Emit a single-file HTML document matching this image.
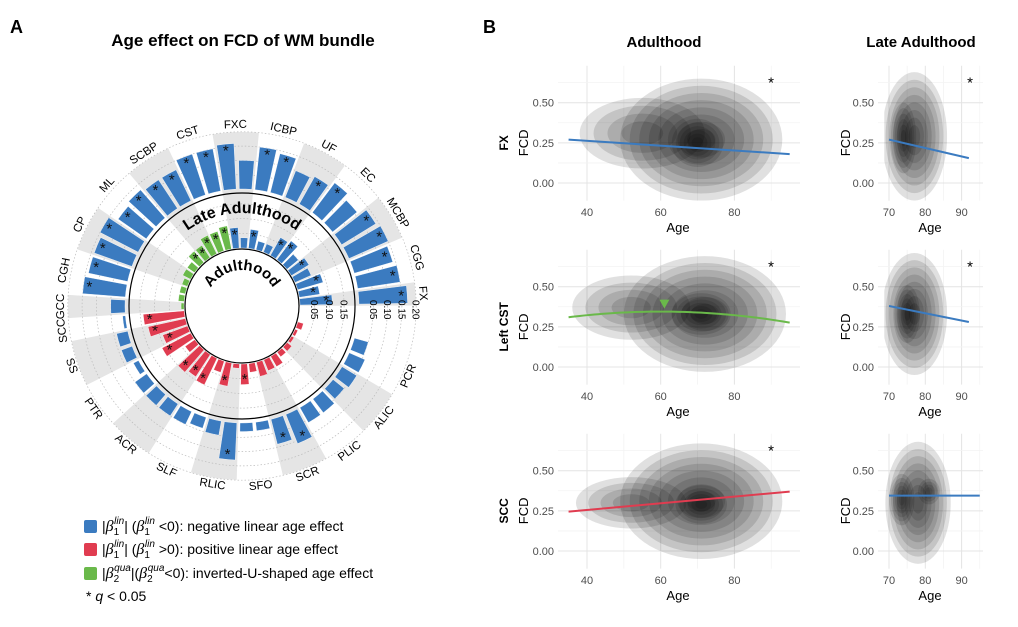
<!DOCTYPE html>
<html><head><meta charset="utf-8">
<style>
body{margin:0;background:#fff;}
svg text{font-family:"Liberation Sans",sans-serif;}
</style></head>
<body>
<svg id="fig" width="1018" height="622" viewBox="0 0 1018 622" xmlns="http://www.w3.org/2000/svg">
<rect width="1018" height="622" fill="#fff"/>
<text x="10" y="33" font-size="18" font-weight="bold">A</text>
<text x="483" y="33" font-size="18" font-weight="bold">B</text>
<text x="243" y="46" font-size="17" font-weight="bold" text-anchor="middle">Age effect on FCD of WM bundle</text>
<g id="circ"></g>
<g id="legend">
  <rect x="84" y="520" width="13" height="13" rx="2" fill="#3b7bc0"/>
  <text x="102" y="531" font-size="14">|<tspan font-style="italic" font-family="Liberation Serif" font-size="16">β</tspan><tspan font-size="10" dy="4">1</tspan><tspan font-size="10" dy="-11" dx="-5" font-style="italic">lin</tspan><tspan dy="7">|   (</tspan><tspan font-style="italic" font-family="Liberation Serif" font-size="16">β</tspan><tspan font-size="10" dy="4">1</tspan><tspan font-size="10" dy="-11" dx="-5" font-style="italic">lin</tspan><tspan dy="7"> &lt;0): negative linear age effect</tspan></text>
  <rect x="84" y="543" width="13" height="13" rx="2" fill="#e03c50"/>
  <text x="102" y="554" font-size="14">|<tspan font-style="italic" font-family="Liberation Serif" font-size="16">β</tspan><tspan font-size="10" dy="4">1</tspan><tspan font-size="10" dy="-11" dx="-5" font-style="italic">lin</tspan><tspan dy="7">|   (</tspan><tspan font-style="italic" font-family="Liberation Serif" font-size="16">β</tspan><tspan font-size="10" dy="4">1</tspan><tspan font-size="10" dy="-11" dx="-5" font-style="italic">lin</tspan><tspan dy="7"> &gt;0): positive linear age effect</tspan></text>
  <rect x="84" y="567" width="13" height="13" rx="2" fill="#6ab94a"/>
  <text x="102" y="578" font-size="14">|<tspan font-style="italic" font-family="Liberation Serif" font-size="16">β</tspan><tspan font-size="10" dy="4">2</tspan><tspan font-size="10" dy="-11" dx="-5" font-style="italic">qua</tspan><tspan dy="7">|(</tspan><tspan font-style="italic" font-family="Liberation Serif" font-size="16">β</tspan><tspan font-size="10" dy="4">2</tspan><tspan font-size="10" dy="-11" dx="-5" font-style="italic">qua</tspan><tspan dy="7">&lt;0): inverted-U-shaped age effect</tspan></text>
  <text x="86" y="601" font-size="14">*  <tspan font-style="italic">q</tspan> &lt; 0.05</text>
</g>
<g id="scat"></g>
</svg>
<script>
// ---------- circular chart data ----------
const tracts = ["FX","CGG","MCBP","EC","UF","ICBP","FXC","CST","SCBP","ML","CP","CGH","GCC","SCC","SS","PTR","ACR","SLF","RLIC","SFO","SCR","PLIC","ALIC","PCR"];
const tractBars = [1,2,2,2,2,2,2,2,2,2,2,2,1,1,2,2,2,2,2,2,2,2,2,2];
const adultVals = [0.11,0.07,0.09,0.06,0.07,0.05,0.08,0.07,0.03,0.03,0.065,0.035,0.07,0.08,0.07,0.07,0.05,0.05,0.03,0.03,0.02,0.02,0.02,0.01,0.14,0.13,0.09,0.11,0.04,0.1,0.09,0.1,0.04,0.08,0.015,0.07,0.03,0.05,0.04,0.04,0.02,0.02,0.01,0.01,0.02];
const adultType = ["n","n","n","n","n","n","n","n","n","n","n","n","n","q","q","q","q","q","q","q","q","q","q","q","p","p","p","p","p","p","p","p","p","p","p","p","p","p","p","p","p","p","p","p","p"];
const adultSig = [1,1,1,0,1,0,1,1,0,0,1,0,1,1,1,1,1,1,0,0,0,0,0,0,1,1,1,1,0,1,1,1,0,1,0,1,0,0,0,0,0,0,0,0,0];
const lateVals = [0.17,0.15,0.14,0.15,0.14,0.11,0.13,0.11,0.1,0.14,0.15,0.1,0.16,0.15,0.15,0.12,0.12,0.13,0.12,0.15,0.14,0.14,0.15,0.05,0.01,0.04,0.04,0.02,0.05,0.05,0.05,0.05,0.04,0.05,0.13,0.03,0.03,0.09,0.11,0.06,0.06,0.05,0.06,0.06,0.05];
const lateSig = [1,1,1,1,1,0,1,1,0,1,1,0,1,1,1,1,1,1,1,1,1,1,1,0,0,0,0,0,0,0,0,0,0,0,1,0,0,1,1,0,0,0,0,0,0];
const innerTicks = ["0.05","0.10","0.15"];
const outerTicks = ["0.05","0.10","0.15","0.20"];

const NS="http://www.w3.org/2000/svg";
function el(tag, attrs, parent){const e=document.createElementNS(NS,tag);for(const k in attrs)e.setAttribute(k,attrs[k]);parent.appendChild(e);return e;}
const cx=242, cy=306, R0=57, RM=113, RMAX=174;
const nSlots=47, slotDeg=360/nSlots, startDeg=4;
const colors={n:"#3b7bc0",p:"#e03c50",q:"#6ab94a"};
function ang(i){return (startDeg+i*slotDeg)*Math.PI/180;}
function pt(r,a){return [cx+r*Math.cos(a), cy-r*Math.sin(a)];}
function sector(r1,r2,a1,a2){
  const p1=pt(r2,a1),p2=pt(r2,a2),p3=pt(r1,a2),p4=pt(r1,a1);
  const large=(a2-a1)>Math.PI?1:0;
  return `M${p1[0]},${p1[1]} A${r2},${r2} 0 ${large} 0 ${p2[0]},${p2[1]} L${p3[0]},${p3[1]} A${r1},${r1} 0 ${large} 1 ${p4[0]},${p4[1]} Z`;
}
const rInner=v=>R0+1+v*294;
const rOuter=v=>RM+4+v*286;
const g=document.getElementById("circ");
let slot=0;
tracts.forEach((t,ti)=>{
  const a1=ang(slot-0.5), a2=ang(slot+tractBars[ti]-0.5);
  if(ti%2===0){
    const s=el("path",{d:sector(R0,RMAX,a1,a2),fill:"#e5e5e5"},g);
    
    
  }
  const am=(a1+a2)/2, deg=am*180/Math.PI;
  const p=pt(181,am);
  const rot=(deg>195&&deg<360)?270-deg:90-deg;
  const tx=el("text",{x:p[0],y:p[1],"font-size":"11.5","text-anchor":"middle","dominant-baseline":"middle",transform:`rotate(${rot} ${p[0]} ${p[1]})`},g);
  tx.textContent=t;
  
  
  slot+=tractBars[ti];
});
[0.05,0.1,0.15].forEach(v=>{const c=el("circle",{cx,cy,r:rInner(v),fill:"none",stroke:"#bbb","stroke-width":"0.7","stroke-dasharray":"1.5 2"},g);});
[0.05,0.1,0.15,0.2].forEach(v=>{const c=el("circle",{cx,cy,r:rOuter(v),fill:"none",stroke:"#bbb","stroke-width":"0.7","stroke-dasharray":"1.5 2"},g);});
const hw=slotDeg*0.4*Math.PI/180;
function star(r,a,name){const p=pt(r,a);const s=el("text",{x:p[0],y:p[1]+5.5,"font-size":"15","text-anchor":"middle",fill:"#111"},g);s.textContent="*";}
for(let i=0;i<adultVals.length;i++){
  const a=ang(i);
  const b=el("path",{d:sector(R0+1,rInner(adultVals[i]),a-hw,a+hw),fill:colors[adultType[i]],stroke:"#fff","stroke-width":"0.4"},g);
  
  
  if(adultSig[i]) star(rInner(adultVals[i])-6,a,'adulthood-significance-star');
  const b2=el("path",{d:sector(RM+4,rOuter(lateVals[i]),a-hw,a+hw),fill:"#3b7bc0",stroke:"#fff","stroke-width":"0.4"},g);
  
  
  if(lateSig[i]) star(rOuter(lateVals[i])-6,a,'late-adulthood-significance-star');
}
const c1=el("circle",{cx,cy,r:R0,fill:"#fff",stroke:"#000","stroke-width":"1.2"},g);

const c2=el("circle",{cx,cy,r:RM,fill:"none",stroke:"#000","stroke-width":"1.2"},g);

innerTicks.forEach((t,k)=>{const x=rInner(+t)+cx;const tx=el("text",{x:x-3.5,y:cy-6,"font-size":"10",transform:`rotate(90 ${x-3.5} ${cy-6})`},g);tx.textContent=t;});
outerTicks.forEach((t,k)=>{const x=rOuter(+t)+cx;const tx=el("text",{x:x-3.5,y:cy-6,"font-size":"10",transform:`rotate(90 ${x-3.5} ${cy-6})`},g);tx.textContent=t;});
const defs=el("defs",{},g);
el("path",{id:"arcLate",d:`M${cx-93},${cy} A93,93 0 0 1 ${cx+93},${cy}`},defs);
el("path",{id:"arcAdult",d:`M${cx-36},${cy} A36,36 0 0 1 ${cx+36},${cy}`},defs);
const lt=el("text",{"font-size":"16","font-weight":"bold"},g);

const tp=el("textPath",{href:"#arcLate",startOffset:"50%","text-anchor":"middle"},lt);tp.textContent="Late Adulthood";
const at=el("text",{"font-size":"15","font-weight":"bold"},g);

const tp2=el("textPath",{href:"#arcAdult",startOffset:"50%","text-anchor":"middle"},at);tp2.textContent="Adulthood";

// ---------- density panels data ----------
const rowNames=["FX","Left CST","SCC"];
const adultTicksX=[40,60,80];
const lateTicksX=[70,80,90];
const ticksY=[0,0.25,0.5];
// blobs: [age, fcd, rxYears, ryFcd, weight]
const adultBlobs=[
 [[71,0.27,22,0.38,1],[55,0.31,17,0.22,0.5],[70,0.25,7,0.15,0.7]],
 [[72,0.33,22,0.36,1],[52,0.37,16,0.2,0.5],[71,0.33,8,0.13,0.7]],
 [[71,0.31,22,0.36,1],[52,0.3,15,0.16,0.5],[71,0.29,7,0.12,0.7]]];
const lateBlobs=[
 [[77,0.29,9,0.4,1],[74,0.28,3.5,0.22,0.8]],
 [[77,0.33,9,0.38,1],[75,0.33,3.5,0.18,0.8]],
 [[78,0.3,9,0.38,1],[73.5,0.32,3.5,0.16,0.7],[81,0.37,3,0.08,0.5]]];
const adultLineStart=[0.27,0.31,0.245];
const adultLineEnd=[0.18,0.28,0.37];
const adultLinePeak=[null,[60,0.345],null];
const adultLineColor=["#3b7bc0","#6ab94a","#e03c50"];
const lateLineStart=[0.27,0.38,0.345];
const lateLineEnd=[0.155,0.28,0.345];
const lateLineEndAge=[92,92,95];
const adultSigRow=[1,1,1];
const lateSigRow=[1,1,0];

const sg=document.getElementById("scat");
const sdefs=el("defs",{},sg);
const adultX=a=>587+(a-40)*3.685;
const lateX=a=>889+(a-70)*3.63;
const Y=(r,f)=>183+r*184-f*160.6;
function panel(r,late){
  const X=late?lateX:adultX;
  const x0=late?878:558, x1=late?983:800;
  const top=Y(r,0.73), bot=Y(r,-0.11);
  const pg=el("g",{},sg);
  
  
  const tx=late?lateTicksX:adultTicksX;
  const step=tx[1]-tx[0];
  for(let i=0;i<tx.length;i++){
    [tx[i]+step/2].forEach(m=>{const xm=X(m);if(xm<x1)el("line",{x1:xm,x2:xm,y1:top,y2:bot,stroke:"#f3f3f3","stroke-width":"0.8"},pg);});
    const gl=el("line",{x1:X(tx[i]),x2:X(tx[i]),y1:top,y2:bot,stroke:"#e4e4e4","stroke-width":"1"},pg);
    
    const t=el("text",{x:X(tx[i]),y:Y(r,0)+33,"font-size":"11","text-anchor":"middle",fill:"#4d4d4d"},pg);t.textContent=tx[i];
    
  }
  ticksY.forEach(v=>{
    el("line",{x1:x0,x2:x1,y1:Y(r,v+0.125),y2:Y(r,v+0.125),stroke:"#f3f3f3","stroke-width":"0.8"},pg);
    const gl=el("line",{x1:x0,x2:x1,y1:Y(r,v),y2:Y(r,v),stroke:"#e4e4e4","stroke-width":"1"},pg);
    
    const t=el("text",{x:x0-4,y:Y(r,v)+4,"font-size":"11","text-anchor":"end",fill:"#4d4d4d"},pg);t.textContent=v.toFixed(2);
    
  });
  const cid="clip"+r+(late?"l":"a");
  const cp=el("clipPath",{id:cid},sdefs);
  const cx0=late?X(68.7):x0;
  el("rect",{x:cx0,y:top,width:x1-cx0,height:bot-top},cp);
  const dg=el("g",{"clip-path":`url(#${cid})`},pg);
  
  const blobs=late?lateBlobs[r]:adultBlobs[r];
  blobs.forEach(b=>{
    const lv=Math.round(8*b[4]);
    for(let k=0;k<lv;k++){
      const s=1-k/(lv+0.5);
      const e=el("ellipse",{cx:X(b[0]),cy:Y(r,b[1]),rx:Math.abs(X(b[0]+b[2]*s)-X(b[0])),ry:b[3]*s*160.6,fill:"#000","fill-opacity":"0.12"},dg);
      
    }
  });
  let d;
  if(!late){
    const a0=35,a1=95;
    if(adultLinePeak[r]){
      const [pa,pv]=adultLinePeak[r];
      const k=(adultLineStart[r]-pv)/((a0-pa)*(a0-pa));
      d="";
      for(let a=a0;a<=a1;a+=1){const v=pv+k*(a-pa)*(a-pa);d+=(a===a0?"M":"L")+X(a)+","+Y(r,v);}
      const mx=X(pa+1), my=Y(r,pv)-3;
      const tri=el("path",{d:`M${mx-5},${my-9} L${mx+5},${my-9} L${mx},${my} Z`,fill:"#6ab94a"},pg);
      
    } else d=`M${X(a0)},${Y(r,adultLineStart[r])} L${X(a1)},${Y(r,adultLineEnd[r])}`;
    const ln=el("path",{d,fill:"none",stroke:adultLineColor[r],"stroke-width":"2"},pg);
    
  } else {
    const ln=el("path",{d:`M${X(70)},${Y(r,lateLineStart[r])} L${X(lateLineEndAge[r])},${Y(r,lateLineEnd[r])}`,fill:"none",stroke:"#3b7bc0","stroke-width":"2"},pg);
    
  }
  const ax=el("text",{x:late?930:678,y:Y(r,0)+49,"font-size":"13","text-anchor":"middle"},pg);ax.textContent="Age";
  
  const fx=late?850:528, fy=Y(r,0.25);
  const ay=el("text",{x:fx,y:fy,"font-size":"13","text-anchor":"middle",transform:`rotate(-90 ${fx} ${fy})`},pg);ay.textContent="FCD";
  
  if((late?lateSigRow:adultSigRow)[r]){
    const st=el("text",{x:late?970:771,y:Y(r,0.5)-15,"font-size":"15","text-anchor":"middle"},pg);st.textContent="*";
    
  }
}
for(let r=0;r<3;r++){
  panel(r,false);panel(r,true);
  const fy=Y(r,0.25), fx=508;
  const rl=el("text",{x:fx,y:fy,"font-size":"12","font-weight":"bold","text-anchor":"middle",transform:`rotate(-90 ${fx} ${fy})`},sg);
  rl.textContent=rowNames[r];
  
}
const t1=el("text",{x:664,y:47,"font-size":"15","font-weight":"bold","text-anchor":"middle"},sg);t1.textContent="Adulthood";

const t2=el("text",{x:921,y:47,"font-size":"15","font-weight":"bold","text-anchor":"middle"},sg);t2.textContent="Late Adulthood";

</script>
</body></html>
